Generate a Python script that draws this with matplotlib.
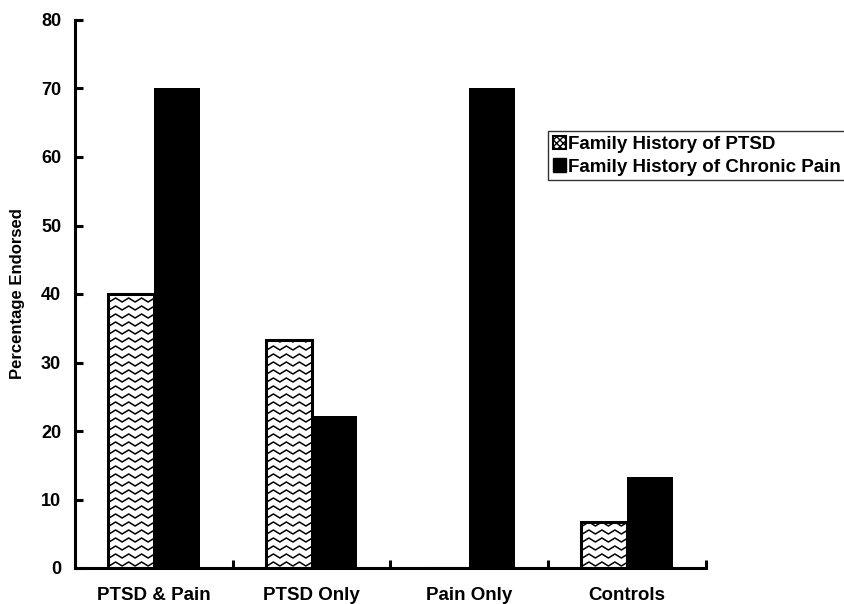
import matplotlib
matplotlib.use("Agg")
import matplotlib.pyplot as plt
from matplotlib.patches import Patch
from matplotlib.transforms import IdentityTransform
import numpy as np

plt.rcParams['font.family'] = ['Liberation Sans', 'DejaVu Sans']
plt.rcParams['font.weight'] = 'bold'

groups = ["PTSD & Pain", "PTSD Only", "Pain Only", "Controls"]
ptsd_hist = [40.0, 33.3, 0.0, 6.7]
pain_hist = [70.0, 22.2, 70.0, 13.3]
series_names = ["Family History of PTSD", "Family History of Chronic Pain"]
yticks = [0, 10, 20, 30, 40, 50, 60, 70, 80]

fig = plt.figure(figsize=(8.45, 6.04), dpi=100)
ax = fig.add_axes([75/845, 1-568/604, 631/845, 548/604])

x = np.arange(len(groups))
w = 0.29
b1 = ax.bar(x - w/2, ptsd_hist, w, color="white", edgecolor="black", linewidth=2.2)
b2 = ax.bar(x + w/2, pain_hist, w, color="black", edgecolor="black", linewidth=0)

ax.set_xlim(-0.5, 3.5)
ax.set_ylim(0, 80)

# zigzag fill for the PTSD bars, clipped to each bar
for r in b1:
    if r.get_height() <= 0:
        continue
    (x0, y0) = ax.transData.transform((r.get_x(), r.get_y()))
    (x1, y1) = ax.transData.transform((r.get_x() + r.get_width(), r.get_y() + r.get_height()))
    xs = np.arange(x0 - 12, x1 + 12, 6.5)
    zig = np.where((np.arange(len(xs)) % 2) == 0, 0.0, 4.0)
    yy = y0 + 2
    while yy < y1 + 4:
        ln = ax.plot(xs, yy + zig, color="black", lw=1.1, transform=IdentityTransform())[0]
        ln.set_clip_path(r)
        yy += 8.0

for s in ["top", "right"]:
    ax.spines[s].set_visible(False)
for s in ["left", "bottom"]:
    ax.spines[s].set_linewidth(2.2)

ax.set_yticks(yticks)
ax.tick_params(axis="y", direction="in", length=6, width=2.2, labelsize=13, pad=10)
ax.set_xticks([0.5, 1.5, 2.5, 3.5])
ax.set_xticklabels([])
ax.set_xticks(x, minor=True)
ax.set_xticklabels(groups, minor=True, fontsize=13.5, fontweight="bold")
ax.tick_params(axis="x", which="major", direction="in", length=6, width=2.2)
ax.tick_params(axis="x", which="minor", length=0, pad=14)
for t in ax.get_yticklabels():
    t.set_fontweight("bold")

ax.set_ylabel("Percentage Endorsed", fontsize=12, fontweight="bold")
ax.yaxis.set_label_coords(-(75 - 25) / 631, 0.5)

handles = [Patch(facecolor="white", edgecolor="black", hatch="xxxxx", linewidth=1.5),
           Patch(facecolor="black", edgecolor="black")]
leg = fig.legend(handles, series_names, loc="upper left",
                 bbox_to_anchor=(548/845, 1-131/604), frameon=True, fancybox=False,
                 edgecolor="black", handlelength=0.7, handleheight=0.7,
                 handletextpad=0.1, borderpad=0.25, labelspacing=0.3,
                 prop={"size": 13.5, "weight": "bold"}, borderaxespad=0)
leg.get_frame().set_linewidth(1)

fig.savefig("out.png", dpi=100)
